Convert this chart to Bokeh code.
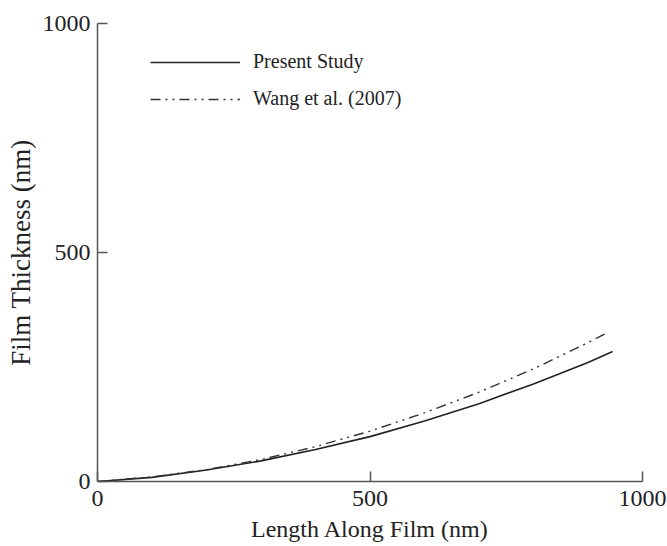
from bokeh.plotting import figure
from bokeh.models import Range1d, Legend, LegendItem, FixedTicker
from bokeh.embed import file_html
from bokeh.resources import INLINE

# Data (nm)
present_x = [0, 100, 200, 300, 400, 500, 600, 700, 800, 900, 945]
present_y = [0, 9, 25, 45, 70, 98, 132, 170, 213, 260, 284]

wang_x = [0, 100, 200, 300, 400, 500, 600, 700, 800, 900, 932]
wang_y = [0, 10, 26, 48, 76, 110, 150, 195, 246, 303, 323]

x_ticks = [0, 500, 1000]
y_ticks = [0, 500, 1000]

FONT = "Liberation Serif"

p = figure(width=667, height=546, output_backend="svg", toolbar_location=None,
           x_range=Range1d(0, 1000), y_range=Range1d(0, 1000),
           min_border_left=97, min_border_right=25, min_border_top=23, min_border_bottom=65)
p.outline_line_color = None
p.xgrid.grid_line_color = None
p.ygrid.grid_line_color = None
p.background_fill_color = "white"
p.border_fill_color = "white"

r1 = p.line(present_x, present_y, line_color="#222222", line_width=1.6)
r2 = p.line(wang_x, wang_y, line_color="#333333", line_width=1.4, line_dash="10 5 2 5 2 5")

for ax in (p.xaxis[0], p.yaxis[0]):
    ax.axis_line_color = "#555555"
    ax.axis_line_width = 1.5
    ax.major_tick_line_color = "#555555"
    ax.major_tick_line_width = 1.5
    ax.major_tick_in = 10
    ax.major_tick_out = 0
    ax.minor_tick_line_color = None
    ax.major_label_text_font = FONT
    ax.major_label_text_font_size = "24px"
    ax.major_label_text_color = "#222222"
    ax.axis_label_text_font = FONT
    ax.axis_label_text_font_style = "normal"
    ax.axis_label_text_color = "#222222"

p.xaxis.axis_label_text_font_size = "24px"
p.yaxis.axis_label_text_font_size = "27px"
p.xaxis.ticker = FixedTicker(ticks=x_ticks)
p.yaxis.ticker = FixedTicker(ticks=y_ticks)
p.xaxis.axis_label = "Length Along Film (nm)"
p.yaxis.axis_label = "Film Thickness (nm)"
p.xaxis.major_label_standoff = 9
p.yaxis.major_label_standoff = 7
p.xaxis.axis_label_standoff = 7
p.yaxis.axis_label_standoff = 4

legend = Legend(items=[LegendItem(label="Present Study", renderers=[r1]),
                       LegendItem(label="Wang et al. (2007)", renderers=[r2])],
                location=(53, 371), glyph_width=90, glyph_height=22, label_height=22,
                label_standoff=13, spacing=14, padding=0, margin=0,
                border_line_alpha=0, background_fill_alpha=0,
                label_text_font=FONT, label_text_font_size="20px", label_text_color="#222222")
p.add_layout(legend, "center")

open("out.html", "w").write(file_html(p, INLINE))
